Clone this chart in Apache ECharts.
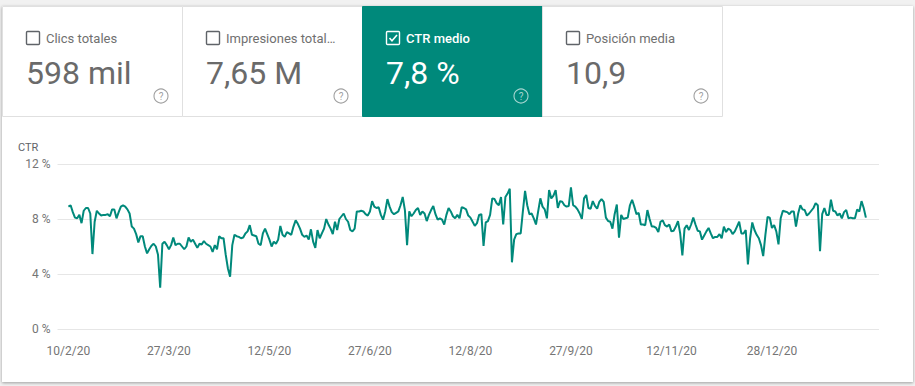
<!DOCTYPE html>
<html><head><meta charset="utf-8">
<script src="https://cdn.jsdelivr.net/npm/echarts/dist/echarts.min.js"></script>
<style>
html,body{margin:0;padding:0;background:#f1f1f1;font-family:Roboto,sans-serif}
#panel{position:absolute;left:2px;top:6px;width:911px;height:376px;background:#fff;box-shadow:0 1px 3px rgba(0,0,0,0.35)}
#c{position:absolute;left:0;top:0;width:915px;height:386px}
</style>
</head><body><div id="panel"></div><div id="c"></div>
<script>
// ---- data ----
const firstDay = '2020-02-10';
const tickLabels = ['10/2/20','27/3/20','12/5/20','27/6/20','12/8/20','27/9/20','12/11/20','28/12/20'];
const yTicks = [0, 4, 8, 12];
const cardTitles = ['Clics totales', 'Impresiones total…', 'CTR medio', 'Posición media'];
const cardValues = ['598 mil', '7,65 M', '7,8 %', '10,9'];
const selectedCard = 2;

// daily CTR (%) from 10/2/20
const ctrFebMar = [8.9, 9.0, 8.5, 8.1, 8.05, 8.3, 7.7, 8.6, 8.8, 8.8, 8.4, 5.45, 7.8, 8.6, 8.4, 8.25, 8.3, 8.3, 8.35, 8.2, 8.7, 8.7, 8.05, 8.5, 8.9, 9.0, 8.9, 8.7, 8.4, 7.45, 7.3, 6.9, 6.3, 6.75, 6.75, 6.0, 5.5, 5.8, 6.05, 6.2, 6.0, 5.4, 3.0, 6.2, 6.35];
const ctrAprMay = [6.1, 5.8, 6.1, 6.65, 6.1, 6.2, 6.2, 6.0, 5.8, 6.0, 6.65, 6.35, 6.5, 6.2, 5.9, 6.2, 6.15, 6.4, 6.2, 6.1, 6.0, 5.6, 6.1, 5.8, 6.75, 6.6, 6.6, 5.4, 4.4, 3.8, 6.1, 6.85, 6.75, 6.7, 6.6, 6.65, 6.95, 7.1, 7.55, 6.85, 6.8, 6.75, 6.2];
const ctrMayJun = [6.1, 6.95, 7.3, 6.9, 6.5, 6.0, 6.35, 6.2, 6.5, 7.5, 6.85, 6.7, 7.05, 6.95, 6.85, 7.45, 7.9, 7.65, 7.3, 6.85, 6.7, 6.8, 6.5, 7.25, 6.35, 5.9, 7.2, 6.6, 6.95, 7.3, 8.0, 7.6, 7.3, 6.9, 7.8, 7.2, 8.0, 8.2, 8.4, 8.0, 7.8, 7.2, 7.1, 7.3, 8.55, 8.55];
const ctrJunAug = [8.6, 8.55, 8.35, 8.25, 8.55, 9.3, 8.9, 8.8, 8.85, 8.3, 7.95, 8.55, 9.45, 8.9, 8.5, 8.35, 8.45, 8.55, 9.0, 9.6, 8.65, 6.1, 8.55, 8.2, 8.4, 8.65, 8.8, 8.3, 8.55, 8.4, 7.85, 8.3, 8.65, 8.95, 8.35, 7.95, 8.05, 7.95, 7.6, 8.3, 8.8, 8.55, 8.2, 8.05, 8.3, 8.05];
const ctrAugSep = [8.85, 8.8, 8.7, 8.25, 8.1, 7.8, 7.5, 7.7, 8.3, 8.35, 6.05, 7.75, 7.85, 8.3, 9.5, 9.45, 9.15, 9.0, 9.6, 7.6, 9.6, 9.85, 10.2, 4.85, 6.5, 6.9, 6.95, 6.95, 8.55, 10.05, 9.0, 8.35, 8.4, 8.05, 7.6, 8.55, 9.5, 8.9, 8.7, 8.05, 10.1, 9.5, 9.7, 10.1, 8.8];
const ctrSepNov = [9.3, 9.25, 9.0, 8.9, 8.95, 10.3, 9.0, 8.9, 8.7, 8.4, 8.0, 9.5, 9.75, 8.8, 8.75, 9.3, 8.95, 8.75, 9.25, 9.45, 9.25, 8.1, 7.85, 7.8, 7.3, 8.35, 9.05, 6.65, 8.3, 8.0, 8.05, 8.1, 9.0, 9.4, 8.9, 8.35, 8.45, 7.6, 7.6, 7.55, 8.65, 8.0, 7.45, 7.45, 7.35, 7.05];
const ctrNovDec = [7.8, 7.9, 7.55, 7.45, 7.6, 7.1, 7.15, 7.45, 7.85, 6.95, 5.35, 7.3, 7.55, 7.2, 7.6, 8.1, 7.6, 7.15, 7.1, 6.5, 6.8, 7.1, 7.35, 6.95, 6.6, 6.7, 6.7, 6.9, 6.6, 7.45, 7.05, 7.3, 7.2, 6.9, 7.1, 7.45, 7.8, 6.95, 6.95, 7.2, 4.7, 6.6, 7.75, 7.2, 6.85, 6.6];
const ctrDecFeb = [6.1, 5.3, 6.85, 8.15, 8.1, 7.35, 7.55, 7.1, 6.15, 8.05, 8.6, 8.55, 8.5, 8.35, 8.55, 8.55, 7.45, 8.4, 9.0, 8.7, 8.65, 8.25, 8.4, 8.6, 8.8, 9.15, 9.0, 5.65, 8.35, 8.8, 8.3, 8.3, 9.4, 8.6, 8.55, 8.25, 8.4, 8.05, 8.5, 8.65, 8.05, 8.1, 8.05, 8.05, 8.7, 8.55, 9.3, 8.8, 8.1];

// ---- build ----
const ctr = [].concat(ctrFebMar, ctrAprMay, ctrMayJun, ctrJunAug, ctrAugSep, ctrSepNov, ctrNovDec, ctrDecFeb);
const padBefore = 5, padAfter = 6;
const DAY = 86400000;
const t0 = Date.parse(firstDay + 'T00:00:00Z') - padBefore * DAY;
const cats = [];
const vals = [];
const total = padBefore + ctr.length + padAfter;
for (let i = 0; i < total; i++) {
  const d = new Date(t0 + i * DAY);
  cats.push(d.getUTCDate() + '/' + (d.getUTCMonth() + 1) + '/' + String(d.getUTCFullYear()).slice(2));
  const k = i - padBefore;
  vals.push(k >= 0 && k < ctr.length ? ctr[k] : null);
}
const tickSet = new Set(tickLabels);

const TEAL = '#00897b';
const FONT = 'Roboto, "Noto Sans", sans-serif';
const graphics = [];
const cardX = [2, 182, 362, 542];
cardTitles.forEach((title, i) => {
  const x0 = cardX[i];
  const sel = i === selectedCard;
  graphics.push({type: 'rect', shape: {x: x0 + 0.5, y: 6.5, width: 180, height: 110},
    style: {fill: sel ? TEAL : '#fff', stroke: sel ? TEAL : '#e0e0e0', lineWidth: 1}, z: 1});
  graphics.push({type: 'rect', shape: {x: x0 + 24.5, y: 31.5, width: 13, height: 13, r: 1},
    style: {fill: 'none', stroke: sel ? '#fff' : '#5f6368', lineWidth: 1.4}, z: 2});
  if (sel) {
    graphics.push({type: 'polyline', shape: {points: [[x0 + 27.5, 38], [x0 + 30, 40.8], [x0 + 35, 35]]},
      style: {fill: 'none', stroke: '#fff', lineWidth: 1.6}, z: 3});
  }
  graphics.push({type: 'text', x: x0 + 44, y: 38, z: 2,
    style: {text: title, fill: sel ? '#fff' : '#707070', font: (sel ? '500 ' : '') + '13px ' + FONT, textVerticalAlign: 'middle', verticalAlign: 'middle'}});
  graphics.push({type: 'text', x: x0 + 24, y: 73, z: 2,
    style: {text: cardValues[i], fill: sel ? '#fff' : '#6a6a6a', font: '32px ' + FONT, textVerticalAlign: 'middle', verticalAlign: 'middle'}});
  const hc = sel ? 'rgba(255,255,255,0.65)' : '#a0a0a0';
  graphics.push({type: 'circle', shape: {cx: x0 + 159, cy: 96, r: 7}, style: {fill: 'none', stroke: hc, lineWidth: 1.1}, z: 2});
  graphics.push({type: 'text', x: x0 + 159, y: 96.5, z: 2,
    style: {text: '?', fill: hc, font: '10px ' + FONT, textAlign: 'center', align: 'center', textVerticalAlign: 'middle', verticalAlign: 'middle'}});
});
graphics.push({type: 'text', x: 18, y: 147, z: 2,
  style: {text: 'CTR', fill: '#5f6368', font: '11px ' + FONT, textVerticalAlign: 'middle', verticalAlign: 'middle'}});

const chart = echarts.init(document.getElementById('c'), null, {renderer: 'svg'});
chart.setOption({
  animation: false,
  backgroundColor: 'transparent',
  textStyle: {fontFamily: FONT},
  graphic: graphics,
  grid: {left: 57.5, right: 36, top: 164, bottom: 57, containLabel: false},
  xAxis: {
    type: 'category', data: cats, boundaryGap: false,
    axisLine: {show: false}, axisTick: {show: false}, splitLine: {show: false},
    axisLabel: {interval: (idx, v) => tickSet.has(v), color: '#757575', fontSize: 12, margin: 16, fontFamily: FONT}
  },
  yAxis: {
    type: 'value', min: yTicks[0], max: yTicks[yTicks.length - 1], interval: yTicks[1] - yTicks[0],
    axisLine: {show: false}, axisTick: {show: false},
    axisLabel: {formatter: '{value} %', color: '#757575', fontSize: 12, margin: 7, fontFamily: FONT},
    splitLine: {lineStyle: {color: '#e6e6e6', width: 1}}
  },
  series: [{
    type: 'line', data: vals, showSymbol: false, symbol: 'none', smooth: false,
    lineStyle: {color: TEAL, width: 2}, itemStyle: {color: TEAL}
  }]
});
</script>
</body></html>
